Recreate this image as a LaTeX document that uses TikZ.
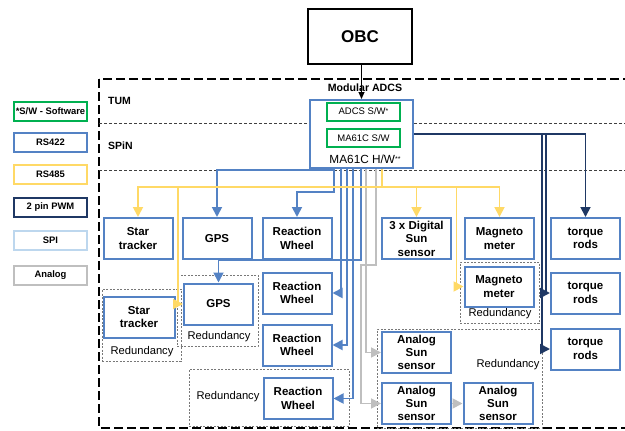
\documentclass[tikz,border=0pt]{standalone}
\usepackage{fontspec}
\setmainfont{Liberation Sans}
\usetikzlibrary{arrows.meta,calc}

\definecolor{rsblue}{RGB}{84,130,196}
\definecolor{rsyellow}{RGB}{255,217,102}
\definecolor{pwmnavy}{RGB}{31,56,100}
\definecolor{spiblue}{RGB}{189,215,238}
\definecolor{angray}{RGB}{191,191,191}
\definecolor{swgreen}{RGB}{0,176,80}
\definecolor{redgray}{RGB}{120,120,120}

\newcommand{\smallstar}[1]{\raisebox{0.35ex}{\fontsize{7}{8}\selectfont #1}}

\begin{document}
\begin{tikzpicture}[x=1pt,y=-1pt,
  unit/.style={draw=rsblue, line width=2pt, fill=white, align=center,
    font=\fontsize{11.5}{13.5}\selectfont\bfseries, inner sep=0pt,
    minimum width=69pt, minimum height=41pt},
  swbox/.style={draw=swgreen, line width=2pt, fill=white, inner sep=0pt,
    minimum width=73pt, minimum height=18pt, font=\fontsize{9.5}{11}\selectfont},
  legend/.style={line width=2pt, fill=white, inner sep=0pt,
    minimum width=73pt, minimum height=19pt, font=\fontsize{9.4}{11}\selectfont\bfseries},
  redbox/.style={draw=redgray, line width=0.9pt, dash pattern=on 2pt off 1.5pt, inner sep=0pt},
  redtext/.style={font=\fontsize{11.2}{13}\selectfont, inner sep=0pt},
  frame/.style={draw=black, line width=2.4pt, dash pattern=on 9pt off 4pt},
  sepline/.style={draw=black!75, line width=0.8pt, dash pattern=on 3pt off 2pt},
  tipe/.style={-{Triangle[length=10pt,width=10pt]}},
  rs422/.style={draw=rsblue, line width=1.8pt, tipe},
  rs485/.style={draw=rsyellow, line width=1.8pt, tipe},
  pwm/.style={draw=pwmnavy, line width=1.8pt, tipe},
  analog/.style={draw=angray, line width=1.8pt, tipe},
  zonelabel/.style={anchor=west, inner sep=0pt, font=\fontsize{10.5}{12}\selectfont\bfseries},
]
\clip (0,0) rectangle (625,431);

% ---- frame of the modular ADCS and its zone separators
\draw[frame] (99,79) rectangle (660,428);
\draw[sepline] (99,123) -- (625,123);
\draw[sepline] (99,170) -- (625,170);

\node[zonelabel] (tum) at (108,101) {TUM};
\node[zonelabel] (spin) at (108,146) {SPiN};

% ---- legend
\node[legend, draw=swgreen] (lgsw) at (50.5,111) {*S/W - Software};
\node[legend, draw=rsblue] (lg422) at (50.5,142) {RS422};
\node[legend, draw=rsyellow] (lg485) at (50.5,174) {RS485};
\node[legend, draw=pwmnavy] (lgpwm) at (50.5,207) {2 pin PWM};
\node[legend, draw=spiblue] (lgspi) at (50.5,240.5) {SPI};
\node[legend, draw=angray] (lgan) at (50.5,275) {Analog};

% ---- redundancy groups
\node[redbox, minimum width=79pt, minimum height=72pt] (redst) at (141.5,325) {};
\node[redtext] (redsttxt) at (142,352) {Redundancy};
\node[redbox, minimum width=81pt, minimum height=71pt] (redgps) at (217.5,310.5) {};
\node[redtext] (redgpstxt) at (219,337) {Redundancy};
\node[redbox, minimum width=160pt, minimum height=57pt] (redrw) at (269,397.5) {};
\node[redtext] (redrwtxt) at (228,397) {Redundancy};
\node[redbox, minimum width=79pt, minimum height=61pt] (redmag) at (499.5,292.5) {};
\node[redtext] (redmagtxt) at (500,314) {Redundancy};
\node[redbox, minimum width=165pt, minimum height=99pt] (redas) at (459.5,378.5) {};
\node[redtext] (redastxt) at (508,365) {Redundancy};

% ---- on-board computer and the ADCS controller
\node[draw=black, line width=2.5pt, minimum width=104pt, minimum height=55pt,
  font=\fontsize{17}{20}\selectfont\bfseries] (obc) at (360,36.5) {OBC};
\node[font=\fontsize{10.6}{13}\selectfont\bfseries, inner sep=0pt] (modular) at (365,88) {Modular ADCS};
\node[draw=rsblue, line width=2pt, fill=white, minimum width=103pt, minimum height=68pt,
  inner sep=0pt] (hw) at (361.5,134) {};
\node[swbox] (adcssw) at (363.5,111.5) {ADCS S/W\smallstar{*}};
\node[swbox] (masw) at (363.5,138) {MA61C S/W};
\node[font=\fontsize{11.8}{13}\selectfont, inner sep=0pt] (hwlabel) at (365,159) {MA61C H/W\smallstar{**}};

% ---- sensors and actuators
\node[unit] (st1) at (138,238.5) {Star\\tracker};
\node[unit] (gps1) at (217,238.5) {GPS};
\node[unit] (rw1) at (297,238.5) {Reaction\\Wheel};
\node[unit] (dss) at (416.5,238.5) {3 x Digital\\Sun\\sensor};
\node[unit] (mag1) at (499.5,238.5) {Magneto\\meter};
\node[unit] (tr1) at (585.5,238.5) {torque\\rods};

\node[unit, minimum width=71pt] (st2) at (139,317) {Star\\tracker};
\node[unit] (gps2) at (218.5,304) {GPS};
\node[unit] (rw2) at (297,293) {Reaction\\Wheel};
\node[unit] (rw3) at (297,345) {Reaction\\Wheel};
\node[unit] (rw4) at (298,398.5) {Reaction\\Wheel};
\node[unit, minimum height=40pt] (mag2) at (499,286.5) {Magneto\\meter};
\node[unit] (tr2) at (585.5,293) {torque\\rods};
\node[unit] (tr3) at (585.5,349) {torque\\rods};
\node[unit, font=\fontsize{11.5}{13}\selectfont\bfseries] (as1) at (416.5,352.5) {Analog\\Sun\\sensor};
\node[unit, font=\fontsize{11.5}{13}\selectfont\bfseries] (as2) at (416.5,403.5) {Analog\\Sun\\sensor};
\node[unit, font=\fontsize{11.5}{13}\selectfont\bfseries] (as3) at (498,403.5) {Analog\\Sun\\sensor};

% ---- command link from the OBC
\draw[line width=1pt, -{Triangle[length=7pt,width=6pt]}] (obc.south -| hw.north) -- (hw.north);

% ---- RS422 links
\draw[rs422] ([xshift=-27.5pt]hw.south) -- ++(0,1) -| (gps1.north);
\draw[rs422] ([xshift=-27.5pt]hw.south) -- ++(0,23) -| (rw1.north);
\draw[rs422] ([xshift=-20.5pt]hw.south) |- (rw2.east);
\draw[rs422] ([xshift=-14.5pt]hw.south) |- (rw3.east);
\draw[rs422] ([xshift=-8.5pt]hw.south) |- (rw4.east);
\draw[rs422] ([xshift=-0.5pt]hw.south) -- ++(0,91) -| (gps2.north);

% ---- analog links
\draw[analog] ([xshift=4.5pt]hw.south) |- (as1.west);
\draw[analog] ([xshift=14.5pt]hw.south) -- ++(0,96) -- ++(-15,0) |- (as2.west);
\draw[analog] (as2.east) -- (as3.west);

% ---- RS485 bus
\coordinate (ybus) at ([xshift=20.5pt,yshift=-18pt]hw.south);
\draw[rs485] ([xshift=20.5pt]hw.south) -- (ybus) -| (st1.north);
\draw[rs485] (ybus) -| (dss.north);
\draw[rs485] (ybus) -| (mag1.north);
\draw[rs485] ([xshift=40pt]st1.north |- ybus) |- (gps2.west);
\draw[rs485] ([xshift=-7pt]mag2.west |- ybus) |- (mag2.west);

% ---- PWM links to the torque rods
\draw[pwm] (hw.east) -| (tr1.north);
\draw[pwm] ([xshift=-4pt]tr2.west |- hw.east) |- (tr2.west);
\draw[pwm] ([xshift=-8pt]tr3.west |- hw.east) |- (tr3.west);
\end{tikzpicture}
\end{document}
